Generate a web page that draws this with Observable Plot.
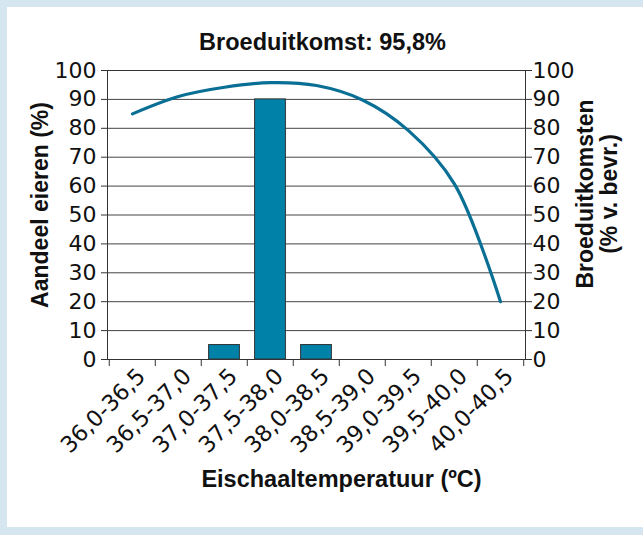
<!DOCTYPE html>
<html><head><meta charset="utf-8">
<script src="https://cdn.jsdelivr.net/npm/d3@7"></script>
<script src="https://cdn.jsdelivr.net/npm/@observablehq/plot@0.6"></script>
<style>
html,body{margin:0;padding:0;background:#d6e6f0;}
#wrap{position:relative;width:643px;height:535px;overflow:hidden;}
#panel{position:absolute;left:7px;top:7px;width:636px;height:520px;background:#fff;}
#chart{position:absolute;left:0;top:0;}
</style></head><body>
<div id="wrap"><div id="panel"></div><div id="chart"></div></div>
<script>
const categories = ["36,0-36,5","36,5-37,0","37,0-37,5","37,5-38,0","38,0-38,5","38,5-39,0","39,0-39,5","39,5-40,0","40,0-40,5"];
const eggShare = [0, 0, 5, 90, 5, 0, 0, 0, 0];
const hatchRate = [85, 91, 94.2, 95.8, 94.8, 89.8, 79.2, 60.7, 20];
const yTicks = [0, 10, 20, 30, 40, 50, 60, 70, 80, 90, 100];
const titleText = "Broeduitkomst: 95,8%";
const xLabel = "Eischaaltemperatuur (ºC)";
const yLabelLeft = "Aandeel eieren (%)";
const yLabelRight = "Broeduitkomsten\n(% v. bevr.)";

const data = categories.map((c, i) => ({cat: c, share: eggShare[i], hatch: hatchRate[i]}));

const W = 643, H = 535, mL = 107, mR = 118, mT = 70, mB = 176;
const bw = (W - mL - mR) / categories.length;
const boldFont = "'Liberation Sans', Arial, sans-serif";

const plot = Plot.plot({
  width: W, height: H,
  marginLeft: mL, marginRight: mR, marginTop: mT, marginBottom: mB,
  style: {background: "transparent", fontFamily: "'DejaVu Sans', sans-serif", color: "#111", overflow: "visible"},
  x: {domain: categories, padding: 0, axis: null},
  y: {domain: [0, 100], axis: null},
  marks: [
    Plot.ruleY(yTicks, {stroke: "#444", strokeWidth: 1}),
    Plot.barY(data, {x: "cat", y: "share", fill: "#0081a8", stroke: "#333", strokeWidth: 1, insetLeft: 7.6, insetRight: 7.6}),
    Plot.frame({stroke: "#333", strokeWidth: 1}),
    Plot.line(data, {x: "cat", y: "hatch", stroke: "#0a6f94", strokeWidth: 3.2, curve: "catmull-rom"}),
    Plot.axisY({anchor: "left", ticks: yTicks, tickSize: 6, tickPadding: 5, fontSize: 22, fontFamily: "'DejaVu Sans', sans-serif", label: null, stroke: "#333"}),
    Plot.axisY({anchor: "right", ticks: yTicks, tickSize: 6, tickPadding: 1, fontSize: 22, fontFamily: "'DejaVu Sans', sans-serif", label: null, stroke: "#333"}),
    Plot.axisX({ticks: categories, tickSize: 7, tickFormat: () => "", dx: -bw / 2, label: null, stroke: "#333"}),
    Plot.axisX({ticks: [categories[categories.length - 1]], tickSize: 7, tickFormat: () => "", dx: bw / 2, label: null, stroke: "#333"}),
    Plot.axisX({ticks: categories, tickSize: 0, tickRotate: -45, tickPadding: 4, fontSize: 22.5, fontFamily: "'DejaVu Sans', sans-serif", label: null, dx: 9, dy: 9}),
    Plot.text([titleText], {frameAnchor: "top", dx: 6, dy: -37, fontSize: 23.5, fontWeight: "bold", fontFamily: boldFont, fill: "#111"}),
    Plot.text([xLabel], {frameAnchor: "bottom", dx: 25, dy: 127, fontSize: 23.5, fontWeight: "bold", fontFamily: boldFont, fill: "#111"}),
    Plot.text([yLabelLeft], {frameAnchor: "left", textAnchor: "middle", rotate: -90, dx: -67, dy: -10, fontSize: 23, fontWeight: "bold", fontFamily: boldFont, fill: "#111"}),
    Plot.text([yLabelRight], {frameAnchor: "right", textAnchor: "middle", rotate: -90, dx: 72, dy: -21, fontSize: 23, fontWeight: "bold", fontFamily: boldFont, fill: "#111", lineHeight: 1.05})
  ]
});
document.getElementById("chart").appendChild(plot);
</script>
</body></html>
